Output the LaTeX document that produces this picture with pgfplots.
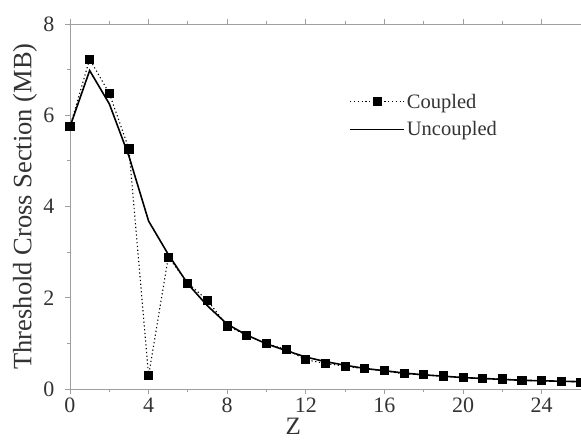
\documentclass[border=0pt]{standalone}
\usepackage{pgfplots}
\pgfplotsset{compat=1.18}
\usepackage{fontspec}
\setmainfont{Liberation Serif}
\usetikzlibrary{calc}
\pgfplotstableread{
x y
0 5.75
1 7.23
2 6.48
3 5.26
4 0.29
5 2.89
6 2.32
7 1.94
8 1.38
9 1.18
10 0.99
11 0.87
12 0.64
13 0.56
14 0.50
15 0.44
16 0.40
17 0.33
18 0.31
19 0.285
20 0.25
21 0.235
22 0.22
23 0.19
24 0.18
25 0.17
26 0.15
}\coupled
\pgfplotstableread{
x y
0 5.75
1 6.98
2 6.25
3 5.10
4 3.68
5 2.95
6 2.30
7 1.82
8 1.42
9 1.18
10 0.99
11 0.84
12 0.70
13 0.60
14 0.52
15 0.45
16 0.40
17 0.35
18 0.31
19 0.28
20 0.25
21 0.23
22 0.21
23 0.19
24 0.18
25 0.17
26 0.16
}\uncoupled
\begin{document}
\begin{tikzpicture}
\begin{axis}[
  name=ax,
  scale only axis,
  width=511pt, height=365pt,
  xmin=0, xmax=26, ymin=0, ymax=8,
  xtick={0,4,...,24}, ytick={0,2,...,8},
  minor xtick={2,6,...,26}, minor ytick={1,3,...,7},
  tick align=outside,
  xtick pos=both, ytick pos=left,
  major tick length=5pt, minor tick length=3pt,
  axis line style={gray!75, line width=0.9pt},
  every tick/.style={gray!75, line width=0.9pt},
  /pgf/number format/assume math mode=true,
  tick label style={font=\fontsize{22}{24}\selectfont, text=black!80},
  yticklabel style={xshift=-7pt},
  xlabel={Z},
  xlabel style={font=\fontsize{25}{27}\selectfont, text=black!80, at={(axis description cs:0.437,-0.126)}, anchor=base},
  ylabel={Threshold Cross Section (MB)},
  ylabel style={font=\fontsize{26.5}{28}\selectfont, text=black!80, at={(axis description cs:-0.088,0.5)}, anchor=center},
  legend style={draw=none, fill=none, at={(axis cs:14.05,6.56)}, anchor=north west, font=\fontsize{20.5}{22}\selectfont, text=black!80, row sep=8pt, cells={anchor=west}},
  legend cell align=left,
  legend image code/.code={\draw[#1] (0pt,0pt) -- (54pt,0pt); \path[#1, solid] plot coordinates {(27pt,0pt)};},
]
\addplot[black, dash pattern=on 1.2pt off 2.6pt, line width=1.1pt, mark=square*, mark size=4pt, mark options={solid, fill=black}] table {\coupled};
\addlegendentry{Coupled}
\addplot[black, line width=1.6pt] table {\uncoupled};
\addlegendentry{Uncoupled}
\end{axis}
\pgfresetboundingbox
\path ($(ax.south west)+(-70pt,-52pt)$) rectangle ($(ax.north east)+(0pt,24pt)$);
\end{tikzpicture}
\end{document}
